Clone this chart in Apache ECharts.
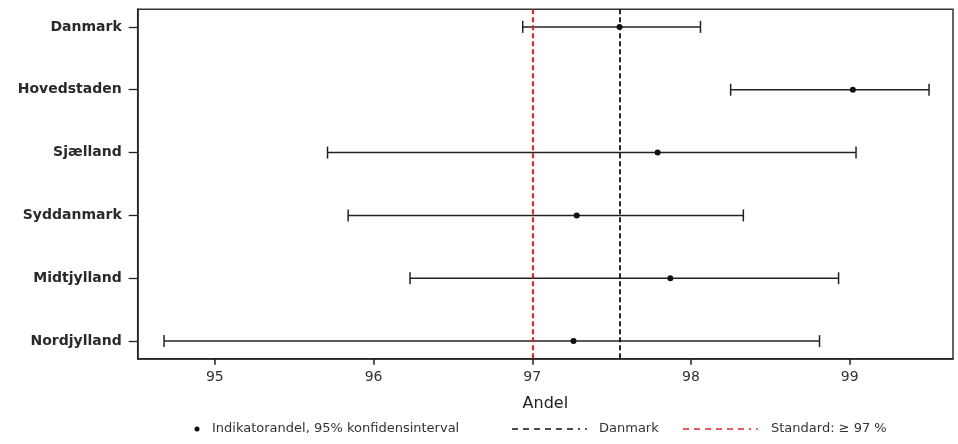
<!DOCTYPE html>
<html>
<head>
<meta charset="utf-8">
<script src="https://cdn.jsdelivr.net/npm/echarts@6/dist/echarts.min.js"></script>
<style>html,body{margin:0;padding:0;background:#fff}#c{width:958px;height:444px}</style>
</head>
<body>
<div id="c"></div>
<script>
// ---- data ----
const categories = ['Danmark', 'Hovedstaden', 'Sjælland', 'Syddanmark', 'Midtjylland', 'Nordjylland'];
const estimate = [97.55, 99.02, 97.79, 97.28, 97.87, 97.26];
const lower    = [96.94, 98.25, 95.71, 95.84, 96.23, 94.68];
const upper    = [98.06, 99.50, 99.04, 98.33, 98.93, 98.81];
const xTicks = [95, 96, 97, 98, 99];
const danmarkValue = 97.55;
const standardValue = 97;
const legendLabels = ['Indikatorandel, 95% konfidensinterval', 'Danmark', 'Standard: \u2265 97 %'];

const FONT = 'DejaVu Sans';
const rows = categories.map((c, i) => [lower[i], estimate[i], upper[i], i]);
const catIdx = categories.map((c, i) => i);

const chart = echarts.init(document.getElementById('c'), null, {renderer: 'canvas'});
chart.setOption({
  animation: false,
  backgroundColor: '#fff',
  grid: {left: 137.7, right: 5, top: 9.3, bottom: 85.3, show: true, borderColor: '#333', borderWidth: 1.5, backgroundColor: 'transparent'},
  xAxis: {
    type: 'value', min: 94.514, max: 99.651,
    name: 'Andel', nameLocation: 'middle', nameGap: 37,
    nameTextStyle: {fontFamily: FONT, fontSize: 16, color: '#222'},
    axisLine: {show: true, onZero: false, lineStyle: {color: '#222', width: 1.5}},
    axisTick: {show: true, length: 6, customValues: xTicks, lineStyle: {color: '#222', width: 1.5}},
    axisLabel: {customValues: xTicks, margin: 12, fontFamily: FONT, fontSize: 14, color: '#333'},
    splitLine: {show: false}
  },
  yAxis: {
    type: 'value', min: -0.28, max: 5.28, inverse: true,
    axisLine: {show: true, onZero: false, lineStyle: {color: '#222', width: 1.5}},
    axisTick: {show: true, length: 9, customValues: catIdx, lineStyle: {color: '#222', width: 1.3}},
    axisLabel: {customValues: catIdx, margin: 16, fontFamily: FONT, fontSize: 14, fontWeight: 'bold', color: '#2a2a2a',
      formatter: v => categories[Math.round(v)] || ''},
    splitLine: {show: false}
  },
  series: [{
    type: 'custom',
    name: legendLabels[0],
    data: rows,
    encode: {x: [0, 1, 2], y: 3},
    z: 3,
    renderItem: function (params, api) {
      const y = api.value(3);
      const a = api.coord([api.value(0), y]);
      const m = api.coord([api.value(1), y]);
      const b = api.coord([api.value(2), y]);
      const st = {stroke: '#222', lineWidth: 1.5};
      return {type: 'group', children: [
        {type: 'line', shape: {x1: a[0], y1: a[1], x2: b[0], y2: b[1]}, style: st},
        {type: 'line', shape: {x1: a[0], y1: a[1] - 6, x2: a[0], y2: a[1] + 6}, style: st},
        {type: 'line', shape: {x1: b[0], y1: b[1] - 6, x2: b[0], y2: b[1] + 6}, style: st},
        {type: 'circle', shape: {cx: m[0], cy: m[1], r: 3}, style: {fill: '#111'}}
      ]};
    },
    markLine: {
      silent: true, symbol: 'none', label: {show: false},
      data: [
        {xAxis: standardValue, lineStyle: {color: '#e0262c', width: 2.2, type: [5, 3]}},
        {xAxis: danmarkValue, lineStyle: {color: '#111', width: 1.8, type: [5, 3]}}
      ]
    }
  }],
  graphic: [
    {type: 'circle', shape: {cx: 197, cy: 429, r: 2.5}, style: {fill: '#111'}},
    {type: 'text', x: 212, y: 429, style: {text: legendLabels[0], fontFamily: FONT, fontSize: 13, fill: '#333', verticalAlign: 'middle'}},
    {type: 'line', shape: {x1: 512, y1: 429, x2: 580, y2: 429}, style: {stroke: '#111', lineWidth: 1.5, lineDash: [6, 5]}},
    {type: 'circle', shape: {cx: 586, cy: 429, r: 0.9}, style: {fill: '#111'}},
    {type: 'text', x: 599, y: 429, style: {text: legendLabels[1], fontFamily: FONT, fontSize: 13, fill: '#333', verticalAlign: 'middle'}},
    {type: 'line', shape: {x1: 683, y1: 429, x2: 751, y2: 429}, style: {stroke: '#e0262c', lineWidth: 1.7, lineDash: [6, 5]}},
    {type: 'circle', shape: {cx: 757, cy: 429, r: 0.9}, style: {fill: '#e0262c'}},
    {type: 'text', x: 771, y: 429, style: {text: legendLabels[2], fontFamily: FONT, fontSize: 13, fill: '#333', verticalAlign: 'middle'}}
  ]
});
</script>
</body>
</html>
